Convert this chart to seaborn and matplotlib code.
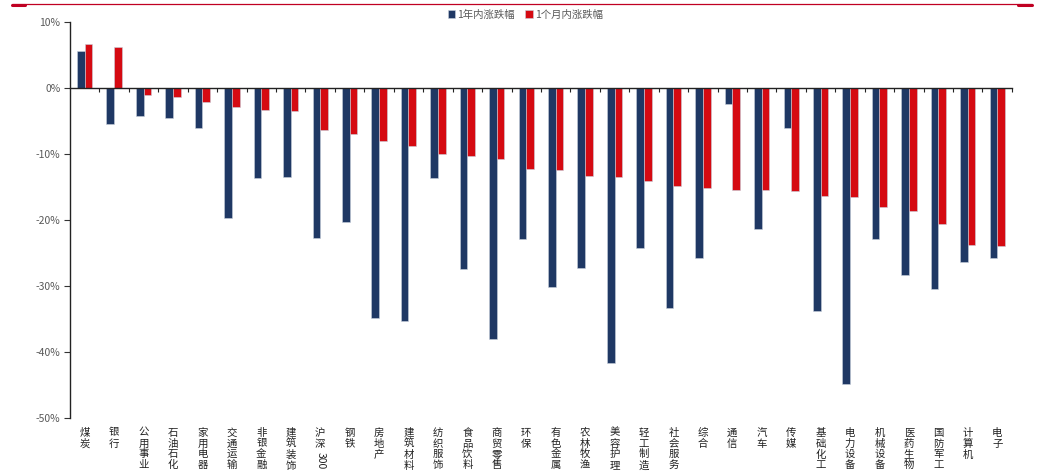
import re
import pandas as pd
import matplotlib.pyplot as plt
import seaborn as sns
from matplotlib.lines import Line2D
from matplotlib.ticker import FixedLocator, PercentFormatter

categories = ["煤炭", "银行", "公用事业", "石油石化", "家用电器", "交通运输", "非银金融", "建筑装饰",
              "沪深300", "钢铁", "房地产", "建筑材料", "纺织服饰", "食品饮料", "商贸零售", "环保",
              "有色金属", "农林牧渔", "美容护理", "轻工制造", "社会服务", "综合", "通信", "汽车",
              "传媒", "基础化工", "电力设备", "机械设备", "医药生物", "国防军工", "计算机", "电子"]
year_change = [5.6, -5.4, -4.2, -4.6, -6.1, -19.7, -13.7, -13.5, -22.7, -20.3, -34.9, -35.3,
               -13.7, -27.4, -38.1, -22.9, -30.2, -27.2, -41.7, -24.2, -33.4, -25.7, -2.5, -21.3,
               -6.1, -33.8, -44.9, -22.9, -28.3, -30.5, -26.4, -25.7]
month_change = [6.7, 6.2, -1.0, -1.3, -2.1, -2.9, -3.4, -3.5, -6.4, -7.0, -8.1, -8.8,
                -10.0, -10.3, -10.8, -12.2, -12.4, -13.4, -13.5, -14.1, -14.8, -15.2, -15.4, -15.5,
                -15.6, -16.3, -16.5, -18.0, -18.7, -20.6, -23.8, -24.0]
series_names = ["1年内涨跌幅", "1个月内涨跌幅"]

df = pd.concat([
    pd.DataFrame({"行业": categories, "涨跌幅": year_change, "区间": series_names[0]}),
    pd.DataFrame({"行业": categories, "涨跌幅": month_change, "区间": series_names[1]}),
], ignore_index=True)

sns.set_style("white")
plt.rcParams['font.family'] = ['Noto Sans CJK SC', 'DejaVu Sans']
plt.rcParams['axes.unicode_minus'] = False

fig = plt.figure(figsize=(10.4, 4.73), dpi=100)
ax = fig.add_axes([0.0673, 0.1163, 0.9057, 0.8372])

sns.barplot(data=df, x="行业", y="涨跌幅", hue="区间", order=categories,
            palette=["#1f3864", "#d50a12"], saturation=1, width=0.52, ax=ax,
            edgecolor="#c8d0dc", linewidth=0.4)

ax.set_ylim(-50, 10)
ax.set_xlim(-0.5, len(categories) - 0.5)
ax.set_yticks(range(-50, 11, 10))
ax.yaxis.set_major_formatter(PercentFormatter(decimals=0))
ax.tick_params(axis="y", direction="out", length=4, width=0.8, color="#333333",
               labelsize=7.5, labelcolor="#595959", pad=3, left=True)
ax.set_xlabel("")
ax.set_ylabel("")

# x axis sits on the zero line, ticks between categories
for s in ["top", "right"]:
    ax.spines[s].set_visible(False)
ax.spines["bottom"].set_position(("data", 0))
ax.spines["bottom"].set_color("#222222")
ax.spines["bottom"].set_linewidth(1.0)
ax.spines["left"].set_color("#222222")
ax.spines["left"].set_linewidth(1.0)
ax.xaxis.set_major_locator(FixedLocator([i + 0.5 for i in range(len(categories))]))
ax.set_xticklabels([])
ax.tick_params(axis="x", direction="out", length=3, width=0.8, color="#222222", bottom=True)

# vertical stacked category labels (digits turned sideways)
line_pt = 7.5 * 1.1
for i, name in enumerate(categories):
    m = re.match(r"(\D*)(\d*)$", name)
    chars, digits = m.group(1), m.group(2)
    ax.annotate("\n".join(chars), xy=(i, 0), xycoords=ax.get_xaxis_transform(),
                xytext=(0, -7), textcoords="offset points",
                ha="center", va="top", fontsize=7.5, linespacing=1.1, color="#222222")
    if digits:
        ax.annotate(digits, xy=(i, 0), xycoords=ax.get_xaxis_transform(),
                    xytext=(0, -7 - len(chars) * line_pt - 1), textcoords="offset points",
                    ha="center", va="top", rotation=270, fontsize=7.5, color="#222222")

ax.get_legend().remove()
handles, labels = ax.get_legend_handles_labels()
fig.legend(handles, labels, loc="center", bbox_to_anchor=(0.505, 0.969), ncol=2,
           frameon=False, fontsize=7.5, labelcolor="#595959",
           handlelength=0.7, handleheight=0.7, handletextpad=0.2, columnspacing=1.0)

# red rule along the top
fig.add_artist(Line2D([12 / 1040, 1032 / 1040], [1 - 4.5 / 473] * 2, color="#c00022", lw=0.9))
fig.add_artist(Line2D([12 / 1040, 25 / 1040], [1 - 5 / 473] * 2, color="#c00022", lw=2.2))
fig.add_artist(Line2D([1018 / 1040, 1032 / 1040], [1 - 5 / 473] * 2, color="#c00022", lw=2.2))

fig.savefig("out.png", dpi=100)
